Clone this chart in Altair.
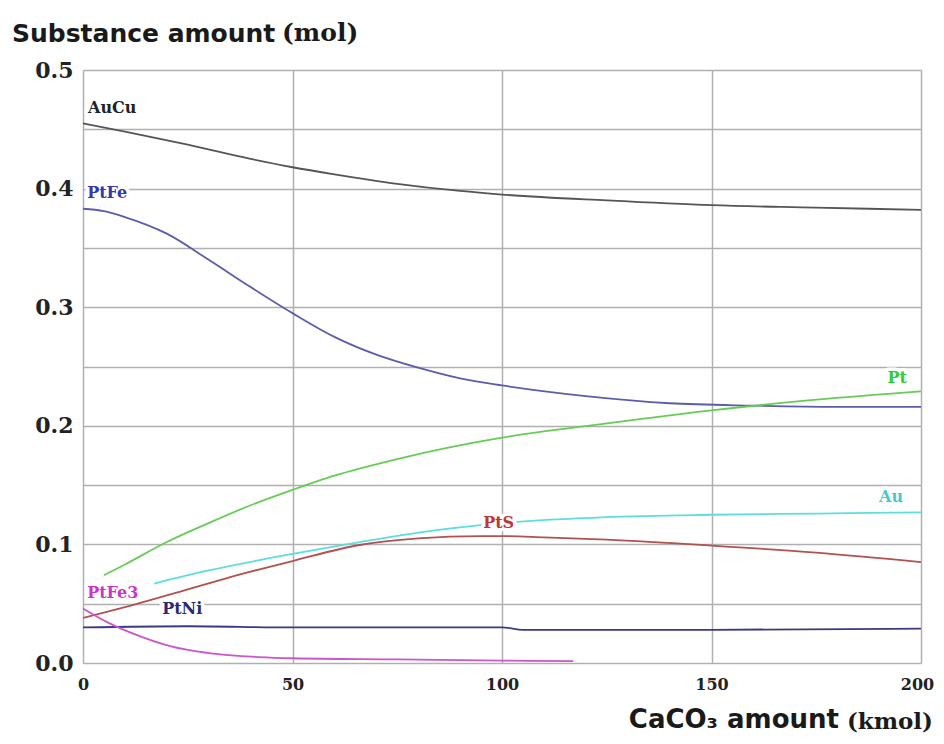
import altair as alt
import pandas as pd

# ---- data ----
aucu_x = [0, 10, 25, 40, 50, 60, 75, 90, 100, 125, 150, 175, 200]
aucu_y = [0.455, 0.448, 0.437, 0.425, 0.418, 0.412, 0.404, 0.398, 0.395, 0.390, 0.386, 0.384, 0.382]

ptfe_x = [0, 5, 10, 20, 30, 40, 50, 60, 70, 80, 90, 100, 120, 140, 160, 180, 200]
ptfe_y = [0.383, 0.381, 0.376, 0.362, 0.340, 0.317, 0.295, 0.275, 0.260, 0.249, 0.240, 0.234, 0.225, 0.219, 0.217, 0.216, 0.216]

pt_x = [5, 10, 20, 30, 40, 50, 60, 75, 100, 125, 150, 175, 200]
pt_y = [0.074, 0.083, 0.102, 0.118, 0.133, 0.146, 0.158, 0.172, 0.190, 0.202, 0.213, 0.222, 0.229]

au_x = [17, 30, 50, 66, 80, 100, 125, 150, 175, 200]
au_y = [0.067, 0.078, 0.092, 0.102, 0.110, 0.118, 0.123, 0.125, 0.126, 0.127]

pts_x = [0, 12, 24, 40, 50, 66, 80, 95, 100, 110, 125, 150, 175, 200]
pts_y = [0.038, 0.049, 0.061, 0.077, 0.086, 0.0995, 0.105, 0.107, 0.107, 0.106, 0.104, 0.099, 0.093, 0.085]

ptni_x = [0, 25, 50, 75, 100, 105, 150, 200]
ptni_y = [0.030, 0.031, 0.030, 0.030, 0.030, 0.028, 0.028, 0.029]

ptfe3_x = [0, 6, 14, 21, 30, 42, 50, 75, 100, 117]
ptfe3_y = [0.046, 0.034, 0.022, 0.014, 0.0084, 0.005, 0.004, 0.003, 0.002, 0.0015]

series_names = ["AuCu", "PtFe", "Pt", "Au", "PtS", "PtNi", "PtFe3"]
line_colors = ["#555555", "#5c5cae", "#66cc55", "#5cdede", "#b35050", "#3a3a82", "#cc55cc"]
label_colors = ["#222222", "#3535b5", "#33cc33", "#44cccc", "#c03535", "#2a2a72", "#cc33cc"]
label_x = [1.2, 1.0, 192.0, 190.0, 95.5, 18.9, 1.0]
label_y = [0.464, 0.392, 0.236, 0.136, 0.114, 0.041, 0.055]

x_ticks = [0, 50, 100, 150, 200]
y_grid = [0, 0.05, 0.1, 0.15, 0.2, 0.25, 0.3, 0.35, 0.4, 0.45, 0.5]

series_data = {
    "AuCu": (aucu_x, aucu_y),
    "PtFe": (ptfe_x, ptfe_y),
    "Pt": (pt_x, pt_y),
    "Au": (au_x, au_y),
    "PtS": (pts_x, pts_y),
    "PtNi": (ptni_x, ptni_y),
    "PtFe3": (ptfe3_x, ptfe3_y),
}

rows = []
for name, (xs, ys) in series_data.items():
    for i, (xv, yv) in enumerate(zip(xs, ys)):
        rows.append({"series": name, "x": xv, "y": yv, "i": i})
df = pd.DataFrame(rows)

labels_df = pd.DataFrame({"series": series_names, "x": label_x, "y": label_y})

W, H = 838, 593

xscale = alt.Scale(domain=[0, 200], nice=False, zero=False)
yscale = alt.Scale(domain=[0, 0.5], nice=False, zero=False)

lines = alt.Chart(df).mark_line(strokeWidth=1.8, clip=True, interpolate="monotone").encode(
    x=alt.X("x:Q", scale=xscale,
            axis=alt.Axis(values=x_ticks, title=None, grid=True, gridColor="#b0b0b0",
                          gridWidth=1.5, ticks=False, domain=False,
                          labelFont="DejaVu Serif", labelFontWeight="bold", labelFontSize=16,
                          labelColor="#222222", labelPadding=13, labelFlush=False,
                          labelOffset={"expr": "datum.value == 200 ? -4 : 0"})),
    y=alt.Y("y:Q", scale=yscale,
            axis=alt.Axis(values=y_grid, title=None, grid=True, gridColor="#b0b0b0",
                          gridWidth=1.5, ticks=False, domain=False,
                          labelExpr="abs(datum.value*10 - round(datum.value*10)) < 0.001 ? format(datum.value, '.1f') : ''",
                          labelFont="DejaVu Serif", labelFontWeight="bold", labelFontSize=22,
                          labelColor="#222222", labelPadding=10, labelFlush=False)),
    color=alt.Color("series:N", scale=alt.Scale(domain=series_names, range=line_colors), legend=None),
    detail="series:N",
    order="i:Q",
)

halo = alt.Chart(labels_df).mark_text(
    align="left", baseline="alphabetic", font="DejaVu Serif", fontWeight="bold",
    fontSize=16, stroke="white", strokeWidth=7, fill="white", strokeJoin="round"
).encode(
    x=alt.X("x:Q", scale=xscale), y=alt.Y("y:Q", scale=yscale), text="series:N"
)

label_text = alt.Chart(labels_df).mark_text(
    align="left", baseline="alphabetic", font="DejaVu Serif", fontWeight="bold", fontSize=16
).encode(
    x=alt.X("x:Q", scale=xscale), y=alt.Y("y:Q", scale=yscale), text="series:N",
    color=alt.Color("series:N", scale=alt.Scale(domain=series_names, range=label_colors), legend=None),
)

title_df = pd.DataFrame({"t": [0]})

def title_text(txt, px, py, font, size, align="left"):
    return alt.Chart(title_df).mark_text(
        text=txt, align=align, baseline="alphabetic", font=font, fontWeight="bold",
        fontSize=size, color="#1a1a1a"
    ).encode(x=alt.value(px), y=alt.value(py))

ytitle_a = title_text("Substance amount", -71, -28, "DejaVu Sans", 25)
ytitle_b = title_text("(mol)", 199, -29, "DejaVu Serif", 25)
xtitle_a = title_text("CaCO\u2083 amount", 756, 658, "DejaVu Sans", 26, align="right")
xtitle_b = title_text("(kmol)", 850, 659, "DejaVu Serif", 23, align="right")

chart = alt.layer(
    lines, halo, label_text, ytitle_a, ytitle_b, xtitle_a, xtitle_b
).resolve_scale(color="independent").properties(
    width=W, height=H,
    autosize=alt.AutoSizeParams(type="none"),
    padding={"left": 75, "top": 62, "right": 15, "bottom": 73},
).configure_view(stroke="#111111", strokeWidth=2.5).configure(background="white")

chart.save("out.html", embed_options={"renderer": "svg", "actions": False})
